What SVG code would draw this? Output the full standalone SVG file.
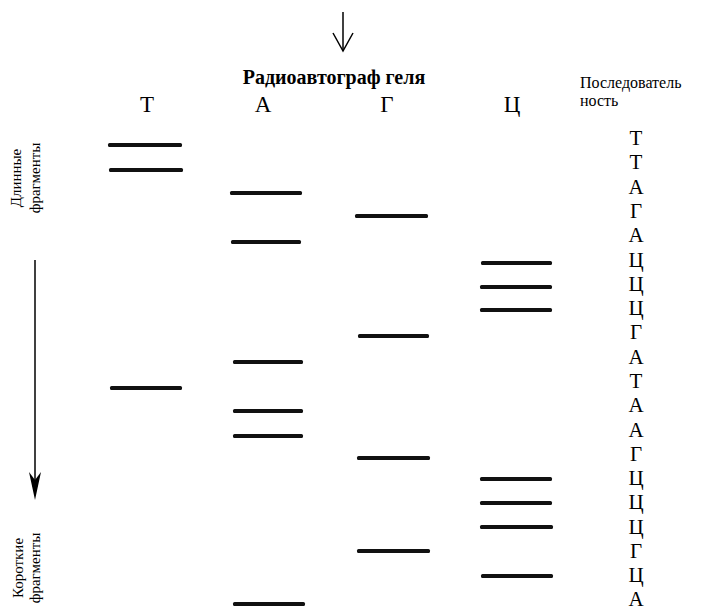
<svg xmlns="http://www.w3.org/2000/svg" width="717" height="610" viewBox="0 0 717 610">
  <rect width="717" height="610" fill="#fff"/>

  <!-- connectors: incoming arrow and migration direction -->
  <g id="connectors" fill="none" stroke="#000">
    <line x1="343" y1="12" x2="343" y2="51" stroke-width="1.5"/>
    <polyline points="333,33 343,51 353,33" stroke-width="1.5"/>
    <line x1="35" y1="260" x2="35" y2="480" stroke-width="1.5"/>
    <path d="M29,472 L35,480 L41,472 L35,500 Z" fill="#000" stroke="none"/>
  </g>

  <!-- header -->
  <g id="title">
    <text x="334" y="84" text-anchor="middle" font-family="Liberation Serif" font-weight="bold" font-size="20">Радиоавтограф геля</text>
  </g>
  <g id="sequence-header">
    <text x="580" y="88" font-family="Liberation Serif" font-size="16">Последователь</text>
    <text x="580" y="106" font-family="Liberation Serif" font-size="16">ность</text>
  </g>

  <!-- side captions -->
  <g id="long-fragments">
    <text transform="translate(21,178) rotate(-90)" text-anchor="middle" font-family="Liberation Serif" font-size="15">Длинные</text>
    <text transform="translate(40,178) rotate(-90)" text-anchor="middle" font-family="Liberation Serif" font-size="15">фрагменты</text>
  </g>
  <g id="short-fragments">
    <text transform="translate(23,568) rotate(-90)" text-anchor="middle" font-family="Liberation Serif" font-size="15">Короткие</text>
    <text transform="translate(40,568) rotate(-90)" text-anchor="middle" font-family="Liberation Serif" font-size="15">фрагменты</text>
  </g>

  <!-- lane T -->
  <g id="lane-T" fill="#111">
    <text x="147" y="112" text-anchor="middle" fill="#000" font-family="Liberation Serif" font-size="23">Т</text>
    <rect x="108" y="143" width="74" height="4" rx="1.5"/>
    <rect x="109" y="168" width="74" height="4" rx="1.5"/>
    <rect x="110" y="386" width="72" height="4" rx="1.5"/>
  </g>

  <!-- lane A -->
  <g id="lane-A" fill="#111">
    <text x="263" y="112" text-anchor="middle" fill="#000" font-family="Liberation Serif" font-size="23">А</text>
    <rect x="230" y="191" width="72" height="4" rx="1.5"/>
    <rect x="231" y="240" width="70" height="4" rx="1.5"/>
    <rect x="233" y="360" width="70" height="4" rx="1.5"/>
    <rect x="233" y="409" width="70" height="4" rx="1.5"/>
    <rect x="233" y="434" width="70" height="4" rx="1.5"/>
    <rect x="233" y="602" width="72" height="4" rx="1.5"/>
  </g>

  <!-- lane G -->
  <g id="lane-G" fill="#111">
    <text x="387" y="112" text-anchor="middle" fill="#000" font-family="Liberation Serif" font-size="23">Г</text>
    <rect x="355" y="214" width="73" height="4" rx="1.5"/>
    <rect x="358" y="334" width="71" height="4" rx="1.5"/>
    <rect x="357" y="456" width="73" height="4" rx="1.5"/>
    <rect x="357" y="549" width="73" height="4" rx="1.5"/>
  </g>

  <!-- lane C -->
  <g id="lane-C" fill="#111">
    <text x="512" y="112" text-anchor="middle" fill="#000" font-family="Liberation Serif" font-size="23">Ц</text>
    <rect x="481" y="261" width="71" height="4" rx="1.5"/>
    <rect x="480" y="285" width="72" height="4" rx="1.5"/>
    <rect x="480" y="308" width="72" height="4" rx="1.5"/>
    <rect x="480" y="477" width="72" height="4" rx="1.5"/>
    <rect x="480" y="501" width="72" height="4" rx="1.5"/>
    <rect x="480" y="525" width="73" height="4" rx="1.5"/>
    <rect x="481" y="574" width="72" height="4" rx="1.5"/>
  </g>

  <!-- read-out sequence -->
  <g id="sequence" text-anchor="middle" fill="#000">
    <text x="636" y="145" font-family="Liberation Serif" font-size="21">Т</text>
    <text x="636" y="169" font-family="Liberation Serif" font-size="21">Т</text>
    <text x="636" y="194" font-family="Liberation Serif" font-size="21">А</text>
    <text x="636" y="218" font-family="Liberation Serif" font-size="21">Г</text>
    <text x="636" y="242" font-family="Liberation Serif" font-size="21">А</text>
    <text x="636" y="267" font-family="Liberation Serif" font-size="21">Ц</text>
    <text x="636" y="291" font-family="Liberation Serif" font-size="21">Ц</text>
    <text x="636" y="315" font-family="Liberation Serif" font-size="21">Ц</text>
    <text x="636" y="339" font-family="Liberation Serif" font-size="21">Г</text>
    <text x="636" y="364" font-family="Liberation Serif" font-size="21">А</text>
    <text x="636" y="388" font-family="Liberation Serif" font-size="21">Т</text>
    <text x="636" y="412" font-family="Liberation Serif" font-size="21">А</text>
    <text x="636" y="437" font-family="Liberation Serif" font-size="21">А</text>
    <text x="636" y="461" font-family="Liberation Serif" font-size="21">Г</text>
    <text x="636" y="485" font-family="Liberation Serif" font-size="21">Ц</text>
    <text x="636" y="509" font-family="Liberation Serif" font-size="21">Ц</text>
    <text x="636" y="534" font-family="Liberation Serif" font-size="21">Ц</text>
    <text x="636" y="558" font-family="Liberation Serif" font-size="21">Г</text>
    <text x="636" y="582" font-family="Liberation Serif" font-size="21">Ц</text>
    <text x="636" y="606" font-family="Liberation Serif" font-size="21">А</text>
  </g>
</svg>
